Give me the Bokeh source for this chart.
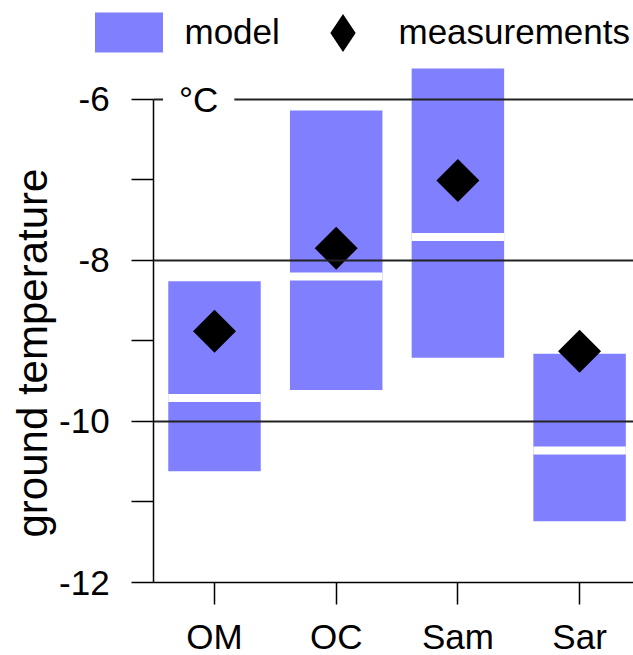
import math
from bokeh.plotting import figure
from bokeh.models import Range1d, FixedTicker, Legend, LegendItem, Label, Title, ColumnDataSource
from bokeh.embed import file_html
from bokeh.resources import INLINE

# ---- data ----
sites = ["OM", "OC", "Sam", "Sar"]
model_low = [-10.62, -9.61, -9.21, -11.24]
model_high = [-8.26, -6.14, -5.62, -9.16]
model_mid = [-9.71, -8.20, -7.71, -10.36]
measured = [-8.88, -7.85, -7.01, -9.13]
y_ticks = [-12, -10, -8, -6]
y_tick_labels = ["-12", "-10", "-8", "-6"]
y_minor = [-11, -9, -7]
grid_ys = [-10, -8, -6]

FONT = "Liberation Sans"
BLUE = "#8080ff"

X0, X1 = -0.3065, 4.443      # visible x extent (frame also holds legend and tick labels)
Y0, Y1 = -12.906, -4.775     # visible y extent
AX_X = 0.5                    # where the y axis sits
AX_Y = -12                    # where the x axis sits

xs = [i + 1 for i in range(len(sites))]
src = ColumnDataSource(dict(x=xs, low=model_low, high=model_high, mid=model_mid, meas=measured))

p = figure(width=633, height=655, output_backend="svg", toolbar_location=None,
           x_range=Range1d(X0, X1), y_range=Range1d(Y0, Y1),
           min_border_left=55, min_border_right=0, min_border_top=0, min_border_bottom=0)
p.outline_line_color = None
p.background_fill_color = "white"
p.border_fill_color = "white"

r_model = p.vbar(x="x", bottom="low", top="high", width=0.76, source=src,
                 fill_color=BLUE, line_color=None)
p.rect(x="x", y="mid", width=0.76, height=8, height_units="screen", source=src,
       fill_color="white", line_color=None)
p.scatter(x="x", y="meas", source=src, marker="square", size=30.4, angle=math.pi / 4,
          fill_color="black", line_color=None)
# renderer used only for the legend swatch
r_meas_leg = p.scatter(x=[float("nan")], y=[float("nan")], marker="diamond", size=10,
                       fill_color="black", line_color=None)

# axes
p.xaxis.ticker = FixedTicker(ticks=xs, minor_ticks=[])
p.xaxis.major_label_overrides = {x: s for x, s in zip(xs, sites)}
p.xaxis.bounds = (AX_X, X1)
p.xaxis.fixed_location = AX_Y
p.yaxis.ticker = FixedTicker(ticks=y_ticks, minor_ticks=y_minor)
p.yaxis.major_label_overrides = {t: s for t, s in zip(y_ticks, y_tick_labels)}
p.yaxis.bounds = (AX_Y, -6)
p.yaxis.fixed_location = AX_X
for ax in (p.xaxis[0], p.yaxis[0]):
    ax.major_tick_out = 22
    ax.major_tick_in = 0
    ax.minor_tick_out = 22
    ax.minor_tick_in = 0
    ax.axis_line_color = "black"
    ax.axis_line_width = 1.5
    ax.major_tick_line_color = "black"
    ax.major_tick_line_width = 1.5
    ax.minor_tick_line_color = "black"
    ax.minor_tick_line_width = 1.5
    ax.major_label_text_font = FONT
    ax.major_label_text_font_size = "35px"
    ax.major_label_text_color = "black"
p.yaxis.major_label_standoff = 22
p.xaxis.major_label_standoff = 12

# y axis title
p.add_layout(Title(text="ground temperature", align="left", offset=118, standoff=0,
                   text_font=FONT, text_font_size="42px", text_font_style="normal",
                   text_color="black"), "left")

# grid
p.xgrid.visible = False
p.ygrid.ticker = FixedTicker(ticks=grid_ys)
p.ygrid.grid_line_color = "#222222"
p.ygrid.grid_line_width = 1.8
p.ygrid.level = "guide"
try:
    p.ygrid.cross_bounds = (AX_X, X1)
except Exception:
    p.ygrid.visible = False
    p.segment(x0=[AX_X] * len(grid_ys), x1=[X1] * len(grid_ys), y0=grid_ys, y1=grid_ys,
              line_color="#222222", line_width=1.8, level="guide")

# unit label
p.add_layout(Label(x=0.87, y=-6, text="°C", text_font=FONT, text_font_size="35px",
                   text_color="black", text_align="center", text_baseline="middle",
                   background_fill_color="white", padding=16))

# legends (bottom-left corner in screen units from the frame's lower left)
leg_a = Legend(items=[LegendItem(label="model", renderers=[r_model])],
               location=(30.5, 598), orientation="horizontal",
               glyph_width=85, glyph_height=50, label_standoff=14,
               label_text_font=FONT, label_text_font_size="35px", label_text_color="black",
               margin=0, padding=0, border_line_color=None, background_fill_alpha=0)
leg_b = Legend(items=[LegendItem(label="measurements", renderers=[r_meas_leg])],
               location=(239.5, 575.5), orientation="horizontal",
               glyph_width=95, glyph_height=95, label_standoff=9,
               label_text_font=FONT, label_text_font_size="35px", label_text_color="black",
               margin=0, padding=0, border_line_color=None, background_fill_alpha=0)
p.add_layout(leg_a)
p.add_layout(leg_b)

open("out.html", "w").write(file_html(p, INLINE))
